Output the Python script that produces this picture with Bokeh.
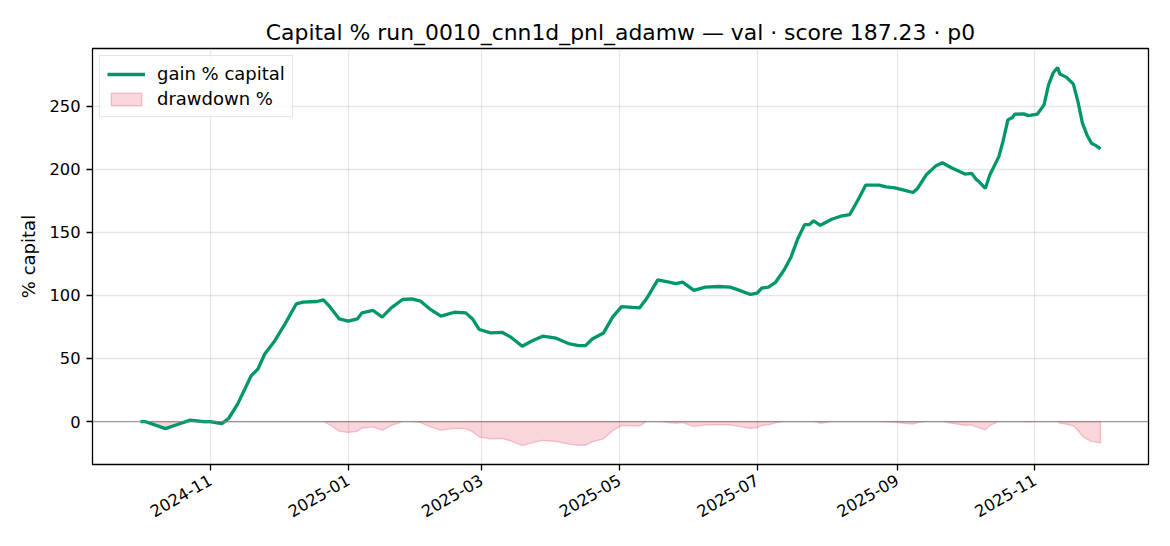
import numpy as np
import pandas as pd
from bokeh.plotting import figure
from bokeh.models import (FixedTicker, DatetimeTickFormatter, Legend, LegendItem,
                          Range1d, Span)
from bokeh.embed import file_html
from bokeh.resources import INLINE

# gain % capital
dates = ["2024-10-01", "2024-10-03", "2024-10-12", "2024-10-17", "2024-10-23", "2024-10-29",
         "2024-11-01", "2024-11-06", "2024-11-09", "2024-11-13", "2024-11-19", "2024-11-22",
         "2024-11-25", "2024-11-29", "2024-12-04", "2024-12-09", "2024-12-12", "2024-12-18",
         "2024-12-21", "2024-12-24", "2024-12-28", "2025-01-01", "2025-01-05", "2025-01-07",
         "2025-01-12", "2025-01-16", "2025-01-20", "2025-01-25", "2025-01-29", "2025-02-02",
         "2025-02-06", "2025-02-11", "2025-02-17", "2025-02-22", "2025-02-25", "2025-02-28",
         "2025-03-05", "2025-03-10", "2025-03-14", "2025-03-19", "2025-03-23", "2025-03-28",
         "2025-04-03", "2025-04-09", "2025-04-13", "2025-04-16", "2025-04-19", "2025-04-24",
         "2025-04-28", "2025-05-02", "2025-05-10", "2025-05-13", "2025-05-18", "2025-05-23",
         "2025-05-26", "2025-05-29", "2025-06-03", "2025-06-08", "2025-06-14", "2025-06-19",
         "2025-06-22", "2025-06-28", "2025-07-01", "2025-07-03", "2025-07-06", "2025-07-09",
         "2025-07-13", "2025-07-16", "2025-07-19", "2025-07-22", "2025-07-24", "2025-07-26",
         "2025-07-29", "2025-08-03", "2025-08-07", "2025-08-11", "2025-08-15", "2025-08-18",
         "2025-08-24", "2025-08-27", "2025-08-31", "2025-09-04", "2025-09-08", "2025-09-10",
         "2025-09-14", "2025-09-18", "2025-09-21", "2025-09-25", "2025-10-01", "2025-10-04",
         "2025-10-06", "2025-10-07", "2025-10-10", "2025-10-12", "2025-10-16", "2025-10-18",
         "2025-10-20", "2025-10-22", "2025-10-23", "2025-10-27", "2025-10-29", "2025-11-02",
         "2025-11-05", "2025-11-07", "2025-11-09", "2025-11-11", "2025-11-12", "2025-11-15",
         "2025-11-18", "2025-11-20", "2025-11-22", "2025-11-24", "2025-11-26", "2025-11-28",
         "2025-11-30"]
gain = [0.0, 0.0, -5.6, -2.6, 1.1, 0.0,
        0.0, -1.6, 2.4, 13.8, 36.3, 41.6,
        53.5, 62.8, 77.4, 93.3, 94.6, 95.1,
        96.4, 90.6, 81.3, 79.5, 81.3, 86.1,
        88.0, 82.7, 90.1, 96.7, 97.2, 95.4,
        89.3, 83.5, 86.6, 86.1, 81.3, 72.9,
        70.2, 70.7, 66.8, 59.6, 63.6, 67.6,
        66.0, 61.5, 60.1, 60.1, 65.4, 70.2,
        82.7, 91.1, 90.1, 97.2, 112.3, 110.5,
        109.2, 110.5, 103.9, 106.5, 107.0, 106.5,
        104.7, 100.7, 101.7, 105.7, 106.5, 110.0,
        120.3, 130.4, 144.9, 156.0, 156.0, 159.0,
        155.5, 160.3, 162.7, 164.0, 176.7, 187.3,
        187.3, 186.0, 185.2, 183.4, 181.5, 184.7,
        195.8, 202.4, 205.1, 201.1, 196.1, 196.6,
        191.8, 190.5, 184.7, 195.3, 209.9, 223.1,
        239.0, 240.9, 243.5, 243.8, 242.4, 243.5,
        250.9, 266.8, 276.1, 280.6, 275.3, 272.7,
        267.4, 253.6, 236.4, 227.1, 220.5, 218.6,
        216.0]
tick_dates = ["2024-11-01", "2025-01-01", "2025-03-01", "2025-05-01",
              "2025-07-01", "2025-09-01", "2025-11-01"]
y_ticks = [0, 50, 100, 150, 200, 250]

x = pd.to_datetime(dates)
g = np.array(gain)
equity = 1 + g / 100.0
dd = (equity / np.maximum.accumulate(equity) - 1) * 100.0

FONT = "DejaVu Sans"
GREEN = "#00966b"
TICK_SIZE = "16.3px"

span = x[-1] - x[0]
x0 = x[0] - 0.05 * span
x1 = x[-1] + 0.05 * span
lo, hi = min(dd.min(), g.min()), g.max()
yr = hi - lo

p = figure(frame_width=1056, frame_height=416, x_axis_type="datetime",
           x_range=Range1d(x0, x1), y_range=Range1d(lo - 0.05 * yr, hi + 0.05 * yr),
           output_backend="svg", toolbar_location=None,
           min_border_left=92, min_border_right=14, min_border_top=48, min_border_bottom=70,
           title="Capital % run_0010_cnn1d_pnl_adamw \u2014 val \u00b7 score 187.23 \u00b7 p0")

p.title.align = "center"
p.title.text_font = FONT
p.title.text_font_size = "21.9px"
p.title.text_font_style = "normal"
p.title.text_color = "black"
p.title.standoff = 7

p.outline_line_color = "black"
p.outline_line_width = 1.3
p.background_fill_color = "white"
p.border_fill_color = "white"

p.xgrid.grid_line_color = "#b0b0b0"
p.ygrid.grid_line_color = "#b0b0b0"
p.xgrid.grid_line_alpha = 0.3
p.ygrid.grid_line_alpha = 0.3
p.xgrid.grid_line_width = 1.3
p.ygrid.grid_line_width = 1.3

p.xaxis.ticker = FixedTicker(ticks=[pd.Timestamp(d).value / 1e6 for d in tick_dates])
fmt = "%Y-%m"
p.xaxis.formatter = DatetimeTickFormatter(years=fmt, months=fmt, days=fmt, hours=fmt)
p.xaxis.major_label_orientation = np.radians(30)
p.yaxis.ticker = FixedTicker(ticks=y_ticks)
p.yaxis.axis_label = "% capital"

for ax in [p.xaxis[0], p.yaxis[0]]:
    ax.axis_line_color = None
    ax.major_tick_line_color = "black"
    ax.major_tick_line_width = 1.3
    ax.major_tick_out = 6
    ax.major_tick_in = 0
    ax.minor_tick_line_color = None
    ax.major_label_text_font = FONT
    ax.major_label_text_font_size = TICK_SIZE
    ax.major_label_text_color = "black"
    ax.major_label_standoff = 6
    ax.axis_label_text_font = FONT
    ax.axis_label_text_font_size = "18px"
    ax.axis_label_text_font_style = "normal"
    ax.axis_label_text_color = "black"
    ax.axis_label_standoff = 7
p.xaxis.major_label_standoff = 8

# drawdown area as a closed polygon
px = np.concatenate([x.values, x.values[::-1]])
py = np.concatenate([dd, np.zeros(len(dd))])
dd_r = p.patch(px, py, fill_color="crimson", fill_alpha=0.18,
               line_color="crimson", line_alpha=0.22, line_width=1.3)

p.add_layout(Span(location=0, dimension="width", line_color="gray",
                  line_alpha=0.7, line_width=1.3))

gain_r = p.line(x, g, line_color=GREEN, line_width=3.3)

legend = Legend(items=[LegendItem(label="gain % capital", renderers=[gain_r]),
                       LegendItem(label="drawdown %", renderers=[dd_r])],
                location="top_left")
legend.label_text_font = FONT
legend.label_text_font_size = "18px"
legend.label_text_color = "black"
legend.label_standoff = 12
legend.glyph_width = 38
legend.glyph_height = 16
legend.spacing = 4
legend.padding = 7
legend.margin = 7
legend.border_line_color = "#cccccc"
legend.border_line_width = 1.3
legend.background_fill_alpha = 0.8
p.add_layout(legend)

open("out.html", "w").write(file_html(p, INLINE))
